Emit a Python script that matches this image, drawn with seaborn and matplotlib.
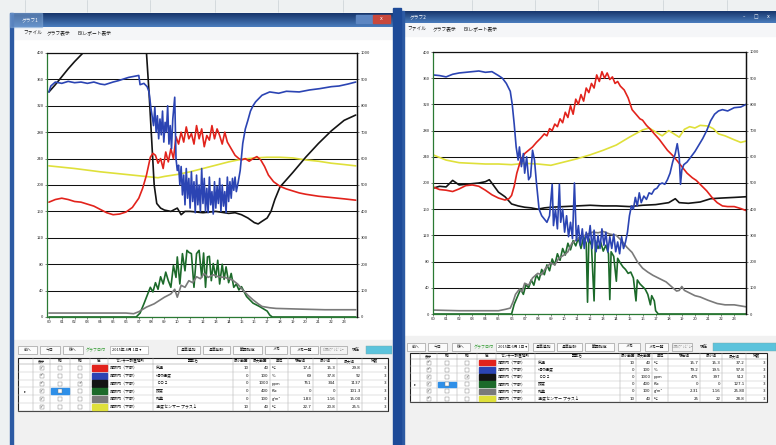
import matplotlib
matplotlib.use("Agg")
import matplotlib.pyplot as plt
from matplotlib.patches import Rectangle
import numpy as np
import pandas as pd
import seaborn as sns

# ---------------- data ----------------
HOUR_LABELS = [f"{h:02d}" for h in range(24)]
LEFT_TICKS = list(range(0, 401, 40))
RIGHT_TICKS = list(range(0, 1001, 100))

# Chart 1 (values in left-axis units 0-400)
c1_red_h = [0, 0.5, 1, 1.5, 2, 2.5, 3, 3.5, 4, 4.5, 5, 5.5, 6, 6.5, 7, 7.3, 7.6, 7.9, 8.1, 8.3, 8.5, 8.7, 8.9, 9.1, 9.3, 9.5, 9.7, 9.9,
            10.1, 10.3, 10.5, 10.7, 10.9, 11.1, 11.3, 11.5, 11.7, 11.9, 12.1, 12.3, 12.5, 12.7, 12.9, 13.1, 13.3, 13.5, 13.7, 13.9,
            14.2, 14.5, 14.8, 15.0, 15.3, 15.6, 15.9, 16.2, 16.5, 16.8, 17.1, 17.5, 18, 18.5, 19, 19.5, 20, 21, 22, 23, 23.9]
c1_red_v = [174, 178, 180, 178, 175, 174, 171, 168, 163, 158, 155, 156, 159, 166, 180, 195, 215, 242, 248, 245, 233, 240, 225, 250,
            235, 255, 240, 273, 262, 280, 265, 288, 270, 278, 262, 290, 270, 285, 258, 275, 268, 290, 270, 285, 275, 262, 280, 265,
            255, 245, 240, 238, 240, 236, 240, 243, 238, 228, 215, 205, 198, 194, 191, 188, 186, 183, 181, 179, 177]

c1_blue_h = [0, 0.15, 0.5, 1, 1.5, 2, 2.5, 3, 3.5, 4, 4.35, 5, 5.4, 6.2, 7.0, 7.1, 7.4, 7.65, 7.8, 7.95, 8.15, 8.25, 8.35, 8.45, 8.55,
             8.65, 8.75, 8.85, 8.95, 9.05, 9.15, 9.25, 9.35, 9.45, 9.55, 9.65, 9.8, 9.9, 10.0, 10.1, 10.2, 10.3, 10.4, 10.5, 10.6,
             10.7, 10.8, 10.9, 11.0, 11.1, 11.2, 11.3, 11.4, 11.5, 11.6, 11.7, 11.8, 11.9, 12.0, 12.1, 12.2, 12.3, 12.4, 12.5,
             12.6, 12.7, 12.8, 12.9, 13.0, 13.1, 13.2, 13.3, 13.4, 13.5, 13.6, 13.7, 13.8, 13.9, 14.0, 14.1, 14.2, 14.3, 14.4,
             14.5, 14.6, 14.75, 14.9, 15.1, 15.3, 15.5, 15.7, 15.9, 16.1, 16.3, 16.6, 17.2, 17.9, 18.5, 19.5, 20.3, 21.1, 22.0,
             22.6, 23.3, 23.9]
c1_blue_v = [341, 350, 356, 354, 357, 355, 356, 354, 356, 353, 352, 356, 358, 363, 366, 352, 354, 349, 341, 316, 290, 318, 280, 305,
             270, 300, 276, 312, 265, 295, 280, 320, 262, 290, 255, 300, 333, 240, 222, 230, 200, 228, 185, 215, 170, 225, 180,
             210, 165, 220, 175, 205, 158, 215, 170, 200, 160, 225, 172, 210, 160, 195, 158, 212, 170, 190, 156, 205, 165, 198,
             172, 210, 160, 200, 168, 190, 158, 212, 175, 205, 180, 210, 192, 212, 190, 205, 222, 263, 285, 298, 312, 320, 326,
             330, 336, 341, 339, 342, 341, 344, 346, 349, 350, 353, 356]

c1_black_h = [0, 0.5, 1, 1.5, 2, 2.5, 2.7, 3, 7.4, 7.6, 7.8, 8.0, 8.2, 8.4, 8.7, 9, 9.5, 10, 10.3, 10.6, 11, 12, 13, 14, 14.5, 15,
              15.5, 16, 16.3, 16.6, 17, 17.3, 17.6, 18, 18.5, 19, 20, 21, 22, 23, 23.9]
c1_black_v = [341, 352, 364, 376, 387, 397, 401, 408, 408, 400, 340, 270, 200, 172, 165, 162, 160, 165, 155, 160, 160, 158, 160, 157,
              158, 155, 150, 143, 141, 145, 150, 160, 178, 197, 208, 219, 242, 263, 282, 298, 306]

c1_yellow_h = [0, 2, 4, 6, 8, 8.5, 9, 10, 11, 12, 13, 14, 15, 16, 17, 18, 19, 20, 21, 22, 23, 23.9]
c1_yellow_v = [229, 225, 220, 216, 212, 211, 213, 216, 220, 225, 230, 235, 239, 241, 242, 242, 241, 238, 236, 233, 231, 229]

c1_green_h = [0, 6.8, 7.1, 7.4, 7.6, 7.9, 8.1, 8.3, 8.5, 8.7, 8.9, 9.1, 9.3, 9.5, 9.7, 9.9, 10.0, 10.2, 10.4, 10.6, 10.75, 10.9,
              11.1, 11.3, 11.5, 11.7, 11.9, 12.05, 12.2, 12.35, 12.5, 12.65, 12.8, 13.0, 13.15, 13.3, 13.5, 13.65, 13.8, 14.0,
              14.2, 14.4, 14.6, 14.8, 15.0, 15.4, 15.9, 16.4, 17.0, 17.2, 17.4, 23.9]
c1_green_v = [0, 0, 6, 20, 30, 45, 38, 52, 42, 61, 50, 68, 55, 45, 78, 60, 91, 50, 96, 70, 101, 98, 96, 45, 96, 101, 60, 97, 45, 91,
              92, 55, 81, 60, 86, 50, 80, 57, 76, 52, 66, 45, 50, 41, 46, 31, 21, 16, 9, 3, 0, 0]

c1_gray_h = [0, 2, 4, 6, 6.6, 7.0, 7.6, 8.2, 8.6, 9.0, 9.5, 9.8, 10.0, 10.3, 10.6, 10.9, 11.2, 11.5, 11.8, 12.1, 12.4, 12.8, 13.2,
             13.7, 14.3, 14.7, 15.1, 15.5, 15.9, 16.3, 16.6, 17.2, 17.7, 19.5, 21.5, 23.9]
c1_gray_v = [6, 6, 6, 6, 5, 8, 15, 20, 25, 30, 35, 42, 30, 48, 45, 55, 52, 61, 58, 66, 60, 64, 61, 60, 56, 50, 41, 33, 26, 20, 16, 14,
             13, 12, 11, 11]

# Chart 2
c2_red_h = [0, 0.5, 1, 1.5, 2, 2.5, 3, 3.5, 4, 4.5, 5, 5.5, 5.8, 6.0, 6.2, 6.4, 6.7, 7.0, 7.3, 7.6, 7.9, 8.2, 8.5, 8.7, 8.9, 9.1,
            9.3, 9.5, 9.7, 9.9, 10.1, 10.3, 10.5, 10.7, 10.9, 11.1, 11.3, 11.5, 11.7, 11.9, 12.1, 12.3, 12.5, 12.7, 12.9, 13.1,
            13.3, 13.5, 13.7, 13.9, 14.1, 14.3, 14.6, 14.9, 15.2, 15.5, 15.8, 16.0, 16.3, 16.6, 16.9, 17.3, 17.6, 17.9, 18.3,
            18.6, 19.0, 19.4, 19.8, 20.1, 20.5, 20.9, 21.3, 21.7, 22.1, 22.5, 23.0, 23.5, 23.9]
c2_red_v = [194, 190, 189, 187, 191, 196, 197, 195, 189, 182, 177, 174, 176, 181, 195, 215, 235, 245, 250, 255, 262, 268, 275, 272,
            283, 280, 290, 286, 298, 292, 308, 300, 318, 305, 328, 320, 335, 325, 345, 338, 352, 345, 365, 355, 370, 360, 368,
            358, 362, 352, 355, 348, 342, 330, 312, 305, 298, 296, 288, 282, 275, 266, 258, 250, 242, 235, 225, 215, 208, 204,
            196, 188, 178, 170, 165, 164, 164, 161, 158]

c2_blue_h = [0, 0.5, 1, 1.5, 2, 2.5, 3, 3.5, 4, 4.5, 5, 5.3, 5.6, 5.9, 6.05, 6.2, 6.35, 6.5, 6.6, 6.75, 6.9, 7.0, 7.15, 7.3, 7.45,
             7.6, 7.75, 7.9, 8.1, 8.3, 8.5, 8.7, 8.9, 9.1, 9.2, 9.35, 9.5, 9.65, 9.75, 9.9, 10.05, 10.2, 10.35, 10.5, 10.65,
             10.8, 10.95, 11.1, 11.25, 11.4, 11.55, 11.7, 11.85, 12.0, 12.15, 12.3, 12.45, 12.6, 12.75, 12.9, 13.05, 13.2,
             13.35, 13.5, 13.65, 13.8, 13.95, 14.1, 14.25, 14.4, 14.55, 14.7, 14.85, 15.0, 15.15, 15.3, 15.45, 15.6, 15.75,
             15.9, 16.1, 16.3, 16.5, 16.7, 16.9, 17.1, 17.3, 17.5, 17.7, 17.9, 18.1, 18.3, 18.5, 18.65, 18.8, 18.9, 19.0,
             19.15, 19.4, 19.7, 20.0, 20.3, 20.6, 20.9, 21.2, 21.5, 21.8, 22.1, 22.5, 23, 23.5, 23.9]
c2_blue_v = [365, 364, 362, 366, 368, 369, 370, 371, 369, 370, 364, 360, 352, 340, 320, 290, 255, 235, 255, 225, 245, 215, 240, 205,
             210, 250, 235, 200, 160, 150, 145, 140, 150, 198, 135, 160, 130, 198, 140, 160, 125, 150, 118, 140, 115, 200, 112,
             135, 105, 130, 100, 125, 110, 135, 100, 128, 95, 120, 100, 130, 105, 125, 95, 118, 100, 122, 95, 110, 92, 118, 100,
             110, 125, 150, 165, 160, 178, 165, 185, 170, 180, 175, 185, 183, 190, 192, 198, 200, 198, 205, 215, 232, 245, 260,
             240, 198, 220, 228, 232, 240, 248, 258, 268, 280, 295, 305, 310, 312, 310, 315, 316, 320]

c2_black_h = [0, 0.5, 1, 1.5, 2, 2.5, 3, 3.5, 4, 4.3, 4.6, 5, 5.5, 6, 6.5, 7, 7.5, 8, 8.5, 9, 10, 11, 12, 13, 14, 15, 16, 17, 18,
              18.5, 18.8, 19.5, 20.4, 21.2, 22, 23, 23.9]
c2_black_v = [192, 195, 194, 204, 197, 198, 199, 200, 202, 205, 197, 186, 179, 168, 165, 163, 162, 160, 162, 163, 164, 165, 166,
              165, 165, 164, 166, 167, 170, 176, 170, 169, 171, 176, 177, 178, 179]

c2_yellow_h = [0, 1, 2, 3, 4, 5, 6, 7, 8, 9, 10, 11, 12, 13, 14, 15, 16, 16.5, 17, 17.5, 18, 18.4, 18.8, 19.2, 19.6, 20, 20.4, 21,
               21.4, 21.8, 22.3, 23, 23.5, 23.9]
c2_yellow_v = [243, 235, 231, 230, 229, 229, 228, 230, 229, 227, 232, 237, 243, 250, 258, 270, 281, 284, 278, 272, 280, 275, 270,
               282, 286, 284, 288, 287, 283, 275, 272, 266, 262, 264]

c2_green_h = [0, 6.0, 6.2, 6.5, 6.7, 6.9, 7.1, 7.3, 7.5, 7.7, 7.9, 8.1, 8.3, 8.5, 8.7, 8.9, 9.1, 9.3, 9.5, 9.7, 9.9, 10.1, 10.3,
              10.5, 10.7, 10.9, 11.1, 11.3, 11.5, 11.7, 11.8, 11.9, 12.1, 12.3, 12.4, 12.6, 12.8, 13.0, 13.2, 13.4, 13.5, 13.6,
              13.8, 14.0, 14.1, 14.3, 14.5, 14.7, 14.9, 15.1, 15.3, 15.5, 15.6, 15.8, 16.0, 16.2, 16.4, 16.6, 16.7, 16.9, 17.0,
              17.2, 23.9]
c2_green_v = [0, 0, 15, 29, 38, 30, 45, 40, 52, 44, 60, 52, 68, 60, 75, 66, 84, 75, 92, 82, 100, 90, 108, 98, 112, 104, 116, 100,
              118, 108, 18, 115, 105, 20, 112, 100, 110, 96, 105, 92, 22, 95, 88, 50, 85, 78, 72, 68, 62, 64, 55, 20, 52, 46, 42,
              38, 30, 14, 28, 20, 5, 0, 0]

c2_gray_h = [0, 2, 4, 5, 5.5, 5.9, 6.1, 6.3, 6.6, 6.8, 7.0, 7.3, 7.6, 8.0, 8.3, 8.6, 9.0, 9.3, 9.6, 10.0, 10.3, 10.6, 11.0, 11.4,
             11.8, 12.2, 12.6, 13.0, 13.5, 14.0, 14.4, 14.8, 15.2, 15.6, 16.0, 16.4, 16.8, 17.3, 17.8, 18.2, 18.6, 18.8, 19.0,
             19.2, 19.6, 20.0, 20.4, 21.0, 21.7, 22.3, 23.0, 23.9]
c2_gray_v = [6, 5, 5, 5, 7, 9, 18, 30, 38, 34, 47, 44, 55, 62, 60, 70, 78, 75, 85, 90, 95, 108, 114, 118, 122, 125, 124, 126, 122,
             120, 112, 102, 94, 80, 70, 64, 59, 54, 49, 42, 35, 36, 42, 36, 32, 28, 26, 21, 16, 14, 14, 11]

# table contents
ELEMENTS = ["気温", "相対湿度", "ＣＯ２", "照度", "飽差", "温度センサー プラス１"]
LOCATION = "施設内（下部）"
UNITS = ["℃", "%", "ppm", "Klx", "g/m³", "℃"]
RANGE_MIN = ["10", "0", "0", "0", "0", "10"]
RANGE_MAX = ["40", "100", "1000", "400", "100", "40"]
T1_CUR = ["17.4", "69", "751", "0", "1.83", "22.7"]
T1_LO = ["15.3", "37.8", "344", "0", "1.16", "20.8"]
T1_HI = ["29.8", "92", "1137", "101.3", "15.00", "25.5"]
T2_CUR = ["15.7", "79.2", "475", "0", "2.31", "25"]
T2_LO = ["15.3", "19.5", "397", "0", "1.16", "22"]
T2_HI = ["37.2", "97.8", "512", "127.1", "25.80", "28.8"]
COEF = ["3", "3", "3", "3", "3", "3"]
HEADERS = ["", "表示", "軸", "軸", "色", "センサー設置場所", "要素名", "最小範囲", "最大範囲", "単位", "現在値", "最小値", "最大値", "係数"]

COL_RED, COL_BLUE, COL_BLACK = "#e2231c", "#2b44b3", "#141414"
COL_YELLOW, COL_GREEN, COL_GRAY = "#dfe03a", "#1c6a2a", "#7a7a7a"
SWATCHES = [COL_RED, COL_BLUE, COL_BLACK, COL_GREEN, COL_GRAY, COL_YELLOW]

# ---------------- figure ----------------
sns.set_style("white")
plt.rcParams['font.family'] = ['Noto Sans CJK JP', 'DejaVu Sans']
W, H = 776, 445
fig = plt.figure(figsize=(W / 100, H / 100), dpi=100)

bg = fig.add_axes([0, 0, 1, 1], zorder=0)
bg.set_xlim(0, W)
bg.set_ylim(H, 0)
bg.axis("off")


def rect(x0, y0, x1, y1, **kw):
    bg.add_patch(Rectangle((x0, y0), x1 - x0, y1 - y0, **kw))


def gradient(x0, y0, x1, y1, c_top, c_bot):
    ct = np.array(matplotlib.colors.to_rgb(c_top))
    cb = np.array(matplotlib.colors.to_rgb(c_bot))
    t = np.linspace(0, 1, 32)[:, None, None]
    img = ct * (1 - t) + cb * t
    img = np.repeat(img, 2, axis=1)
    bg.imshow(img, extent=(x0, x1, y1, y0), aspect="auto", zorder=1, interpolation="bilinear")


# desktop / photo background
rect(0, 0, W, H, color="#eef1f2", zorder=0)
for gx in [25, 87, 150, 215, 278, 343, 472, 535, 598, 663, 727]:
    bg.plot([gx, gx], [0, 12], color="#cfd6da", lw=0.6, zorder=0.5)

# left window
rect(10, 13, 393, H, color="#ffffff", zorder=0.6)
gradient(10, 13, 393, 27, "#17366c", "#4a7cbd")
rect(10, 13, 42, 27, color="#7fa6d6", alpha=0.55, zorder=1.2)
bg.text(22, 20, "グラフ1", fontsize=3.4, color="white", va="center", zorder=3)
rect(356, 15, 365, 23, color="#5d86c2", zorder=2)
rect(365, 15, 373, 23, color="#5d86c2", zorder=2)
rect(373, 15, 390, 23, color="#c9483c", zorder=2)
bg.text(381.5, 19, "x", fontsize=3.4, color="white", ha="center", va="center", zorder=3, family="DejaVu Sans")
rect(10, 27, 393, 39, color="#f5f6f8", zorder=0.7)
for tx, t in [(23, "ファイル"), (47, "グラフ表示"), (78, "EXレポート表示")]:
    bg.text(tx, 33, t, fontsize=3.4, color="#111", va="center", zorder=3)
rect(12, 340, 393, H, color="#f1f1f1", zorder=0.7)
rect(10, 13, 13, H, color="#2c5aa3", zorder=1)

# right window
rect(401, 11, W, H, color="#ffffff", zorder=0.6)
gradient(401, 11, W, 23, "#17366c", "#4a7cbd")
bg.text(410, 17, "グラフ2", fontsize=3.4, color="white", va="center", zorder=3)
for bx, s in [(744, "–"), (756, "□"), (768, "x")]:
    bg.text(bx, 17, s, fontsize=3.4, color="white", ha="center", va="center", zorder=3, family="DejaVu Sans")
rect(401, 23, W, 36, color="#f5f6f8", zorder=0.7)
for tx, t in [(407, "ファイル"), (433, "グラフ表示"), (463, "EXレポート表示")]:
    bg.text(tx, 29, t, fontsize=3.4, color="#111", va="center", zorder=3)
rect(401, 336, W, H, color="#f1f1f1", zorder=0.7)
rect(401, 11, 404, H, color="#2c5aa3", zorder=1)

# stripe between windows
rect(393, 8, 401, H, color="#1d4a98", zorder=1)


# -------------- charts --------------
def make_chart(rect_px, xlim, series):
    x0, y0, x1, y1 = rect_px
    ax = fig.add_axes([x0 / W, 1 - y1 / H, (x1 - x0) / W, (y1 - y0) / H], zorder=2)
    ax.set_facecolor("white")
    for h, v, c in series:
        sns.lineplot(x=h, y=v, color=c, lw=1.2, ax=ax, estimator=None, sort=False)
    ax.set_xlim(*xlim)
    ax.set_ylim(0, 400)
    ax.set_yticks(LEFT_TICKS)
    ax.set_yticklabels([str(t) for t in LEFT_TICKS])
    ax.set_xticks(range(24))
    ax.set_xticklabels(HOUR_LABELS)
    ax.set_xlabel("")
    ax.set_ylabel("")
    ax.yaxis.grid(True, color="#111111", lw=0.75)
    ax.xaxis.grid(False)
    ax.set_axisbelow(True)
    ax.tick_params(axis="both", labelsize=3.0, length=1.5, width=0.4, pad=1.0, colors="#222",
                   left=True, bottom=True)
    ax.spines["left"].set_color("#2a7a33")
    ax.spines["bottom"].set_color("#2a7a33")
    ax.spines["top"].set_color("#111")
    ax.spines["right"].set_color("#111")
    for s in ax.spines.values():
        s.set_linewidth(0.9)
    ax2 = ax.twinx()
    ax2.set_ylim(0, 1000)
    ax2.set_yticks(RIGHT_TICKS)
    ax2.set_yticklabels([str(t) for t in RIGHT_TICKS])
    ax2.tick_params(axis="y", labelsize=3.0, length=1.5, width=0.4, pad=1.0, colors="#222", right=True)
    for k, s in ax2.spines.items():
        s.set_visible(k == "right")
    ax2.spines["right"].set_color("#111")
    ax2.spines["right"].set_linewidth(0.9)
    ax2.grid(False)
    return ax


make_chart((47, 53, 357, 317), (-0.15, 24.0), [
    (c1_green_h, c1_green_v, COL_GREEN),
    (c1_gray_h, c1_gray_v, COL_GRAY),
    (c1_yellow_h, c1_yellow_v, COL_YELLOW),
    (c1_black_h, c1_black_v, COL_BLACK),
    (c1_red_h, c1_red_v, COL_RED),
    (c1_blue_h, c1_blue_v, COL_BLUE),
])
make_chart((433, 52, 746, 314), (0, 23.9), [
    (c2_green_h, c2_green_v, COL_GREEN),
    (c2_gray_h, c2_gray_v, COL_GRAY),
    (c2_yellow_h, c2_yellow_v, COL_YELLOW),
    (c2_black_h, c2_black_v, COL_BLACK),
    (c2_red_h, c2_red_v, COL_RED),
    (c2_blue_h, c2_blue_v, COL_BLUE),
])


# -------------- button rows & tables --------------
def button(x0, x1, y0, y1, label, color="#111", face="#fbfbfb"):
    rect(x0, y0, x1, y1, facecolor=face, edgecolor="#8a8a8a", lw=0.4, zorder=2)
    bg.text((x0 + x1) / 2, (y0 + y1) / 2, label, fontsize=2.8, color=color, ha="center", va="center", zorder=3)


def toolbar(y0, y1, items):
    for kind, x0, x1, label in items:
        if kind == "b":
            button(x0, x1, y0, y1, label)
        elif kind == "g":
            button(x0, x1, y0, y1, label, color="#9a9a9a", face="#f3f3f3")
        elif kind == "d":
            rect(x0, y0, x1, y1, facecolor="white", edgecolor="#9a9a9a", lw=0.4, zorder=2)
            bg.text(x0 + 2, (y0 + y1) / 2, label, fontsize=2.8, color="#111", va="center", zorder=3)
        elif kind == "t":
            bg.text(x0, (y0 + y1) / 2, label, fontsize=2.9, color="#2f9a2f", va="center", zorder=3)
        elif kind == "l":
            bg.text(x0, (y0 + y1) / 2, label, fontsize=2.9, color="#111", va="center", zorder=3)
        elif kind == "c":
            rect(x0, y0, x1, y1, facecolor="#5cc3dc", edgecolor="#7aa", lw=0.3, zorder=2)


def table(cols, y_top, head_h, row_h, cur, lo, hi):
    n = len(ELEMENTS)
    y_bot = y_top + head_h + n * row_h
    rect(cols[0], y_top, cols[-1], y_bot, facecolor="white", edgecolor="#222", lw=0.8, zorder=2)
    for cx in cols[1:-1]:
        bg.plot([cx, cx], [y_top, y_bot], color="#a8a8a8", lw=0.35, zorder=2.1)
    for i in range(n + 1):
        yy = y_top + head_h + i * row_h
        bg.plot([cols[0], cols[-1]], [yy, yy], color="#8c8c8c" if i == 0 else "#c2c2c2", lw=0.35, zorder=2.1)
    for j, hd in enumerate(HEADERS):
        if hd:
            bg.text((cols[j] + cols[j + 1]) / 2, y_top + head_h / 2, hd, fontsize=2.6, ha="center", va="center",
                    color="#111", zorder=3)
    for i in range(n):
        yc = y_top + head_h + (i + 0.5) * row_h
        ytop = y_top + head_h + i * row_h
        if i == 3:
            bg.text((cols[0] + cols[1]) / 2, yc, "▸", fontsize=3, ha="center", va="center", color="#333",
                    zorder=3, family="DejaVu Sans")
            rect(cols[2] + 1, ytop + 1, cols[3] - 1, ytop + row_h - 1, color="#2e8fe8", zorder=2.2)
        for j in (1, 2, 3):
            cx = (cols[j] + cols[j + 1]) / 2
            rect(cx - 2, yc - 2, cx + 2, yc + 2, facecolor="white", edgecolor="#777", lw=0.3, zorder=2.5)
            checked = j == 1 or (j == 3 and i == 2)
            if checked:
                bg.text(cx, yc, "✓", fontsize=3, ha="center", va="center", color="#333", zorder=3,
                        family="DejaVu Sans")
        rect(cols[4] + 1.5, ytop + 0.8, cols[5] - 1.5, ytop + row_h - 0.8, color=SWATCHES[i], zorder=2.3)
        bg.text(cols[5] + 2, yc, LOCATION, fontsize=2.9, va="center", color="#111", zorder=3)
        bg.text(cols[6] + 3, yc, ELEMENTS[i], fontsize=2.9, va="center", color="#111", zorder=3)
        vals = [RANGE_MIN[i], RANGE_MAX[i], None, cur[i], lo[i], hi[i], COEF[i]]
        for k, val in enumerate(vals):
            j = 7 + k
            if val is None:
                bg.text(cols[j] + 1.5, yc, UNITS[i], fontsize=2.8, va="center", color="#111", zorder=3)
            else:
                bg.text(cols[j + 1] - 1.5, yc, val, fontsize=2.9, va="center", ha="right", color="#111", zorder=3,
                        family="DejaVu Sans")


toolbar(346, 353.5, [("b", 18, 37, "前へ"), ("b", 40, 60, "今日"), ("b", 63, 83, "後へ"), ("t", 86, 0, "グラフ日付"),
                     ("d", 110, 148, "2015年 4月 1日 ▾"), ("b", 177, 200, "基準追加"), ("b", 203, 230, "基準削除"),
                     ("b", 233, 262, "範囲指定"), ("b", 265, 287, "メモ"), ("b", 290, 318, "メモ一覧"),
                     ("g", 320, 347, "印刷ﾌﾟﾚﾋﾞｭｰ"), ("l", 352, 0, "現在"), ("c", 366, 392, "")])
table([18, 33, 50, 70, 90, 108, 153, 233, 250, 270, 288, 313, 337, 362, 388], 358, 6, 7.8, T1_CUR, T1_LO, T1_HI)

toolbar(343, 350.5, [("b", 407, 425, "前へ"), ("b", 428, 447, "今日"), ("b", 452, 470, "後へ"), ("t", 474, 0, "グラフ日付"),
                     ("d", 496, 528, "2015年 6月 1日 ▾"), ("b", 533, 554, "基準追加"), ("b", 557, 582, "基準削除"),
                     ("b", 585, 614, "範囲指定"), ("b", 618, 640, "メモ"), ("b", 645, 668, "メモ一覧"),
                     ("g", 672, 692, "印刷ﾌﾟﾚﾋﾞｭｰ"), ("l", 700, 0, "現在"), ("c", 713, 776, "")])
table([410, 420, 437, 457, 477, 496, 535, 620, 636, 652, 668, 700, 722, 746, 767], 353, 6, 7.2, T2_CUR, T2_LO, T2_HI)

fig.savefig("out.png", dpi=100)
